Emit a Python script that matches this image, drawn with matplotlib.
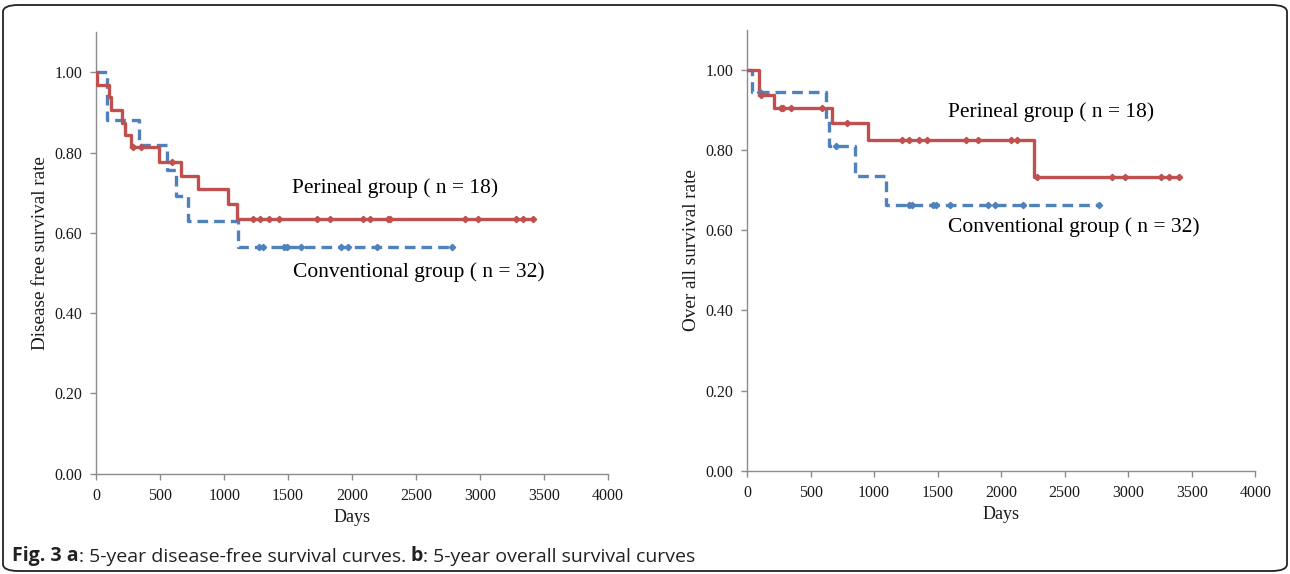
import numpy as np
import matplotlib
matplotlib.use('Agg')
import matplotlib.pyplot as plt
from matplotlib.patches import FancyBboxPatch

# ---- data ----
# panel a: disease-free survival (step change points, survival after each point)
a_per_t = [0, 8, 97, 115, 202, 222, 272, 489, 665, 798, 1031, 1097, 3418]
a_per_s = [1.0, 0.969, 0.938, 0.906, 0.875, 0.844, 0.813, 0.778, 0.743, 0.709, 0.672, 0.636, 0.636]
a_per_cens = [290, 352, 590, 1223, 1283, 1354, 1425, 1729, 1825, 2083, 2140, 2279, 2297,
              2887, 2987, 3279, 3340, 3418]

a_con_t = [0, 84, 333, 555, 621, 713, 1105, 2782]
a_con_s = [1.0, 0.882, 0.819, 0.757, 0.693, 0.629, 0.566, 0.566]
a_con_cens = [1276, 1302, 1466, 1493, 1603, 1917, 1970, 2193, 2782]

# panel b: overall survival
b_per_t = [0, 94, 212, 667, 955, 2261, 3403]
b_per_s = [1.0, 0.939, 0.906, 0.867, 0.825, 0.733, 0.733]
b_per_cens = [108, 265, 286, 346, 588, 789, 1217, 1277, 1354, 1414, 1723, 1815, 2075, 2123,
              2280, 2870, 2975, 3258, 3324, 3403]

b_con_t = [0, 37, 622, 643, 850, 1092, 2772]
b_con_s = [1.0, 0.946, 0.878, 0.810, 0.735, 0.663, 0.663]
b_con_cens = [105, 698, 1278, 1296, 1462, 1488, 1598, 1900, 1952, 2175, 2772]

x_ticks = [0, 500, 1000, 1500, 2000, 2500, 3000, 3500, 4000]
y_ticks = [0.0, 0.2, 0.4, 0.6, 0.8, 1.0]

RED = '#C0504D'
BLUE = '#4F81BD'
GREY = '#8C8C8C'
INK = '#1a1a1a'

plt.rcParams['font.family'] = ['Liberation Serif', 'DejaVu Serif']


def level_at(times, surv, t):
    # survival level of a step curve at time t
    idx = np.searchsorted(times, t, side='right') - 1
    return np.asarray(surv)[idx]


def draw_curve(ax, times, surv, cens, color, dashed):
    ls = (0, (3.2, 1.8)) if dashed else '-'
    ax.step(times, surv, where='post', color=color, lw=2.4, ls=ls, zorder=3)
    ax.plot(cens, level_at(times, surv, cens), ls='none', marker='D',
            ms=3.2, color=color, mec=color, zorder=4)


def style_axes(ax, ylabel):
    ax.set_xlim(0, 4000)
    ax.set_ylim(0, 1.1)
    ax.set_xticks(x_ticks)
    ax.set_yticks(y_ticks)
    ax.set_yticklabels([f'{v:.2f}' for v in y_ticks])
    for s in ['top', 'right']:
        ax.spines[s].set_visible(False)
    for s in ['left', 'bottom']:
        ax.spines[s].set_color(GREY)
        ax.spines[s].set_linewidth(1.0)
    ax.tick_params(direction='out', length=4, width=1.0, color=GREY,
                   labelsize=11.5, labelcolor=INK, pad=6)
    ax.set_xlabel('Days', fontsize=13, color=INK, labelpad=4)
    ax.set_ylabel(ylabel, fontsize=13.8, color=INK, labelpad=4)


fig = plt.figure(figsize=(12.9, 5.74), dpi=100)

ax1 = fig.add_axes([0.0747, 0.1747, 0.3964, 0.7690])
draw_curve(ax1, a_con_t, a_con_s, a_con_cens, BLUE, True)
draw_curve(ax1, a_per_t, a_per_s, a_per_cens, RED, False)
style_axes(ax1, 'Disease free survival rate')
ax1.text(1528, 0.711, 'Perineal group ( n = 18)', fontsize=15.5, va='center', ha='left')
ax1.text(1539, 0.502, 'Conventional group ( n = 32)', fontsize=15.5, va='center', ha='left')

ax2 = fig.add_axes([0.5791, 0.1800, 0.3940, 0.7677])
draw_curve(ax2, b_con_t, b_con_s, b_con_cens, BLUE, True)
draw_curve(ax2, b_per_t, b_per_s, b_per_cens, RED, False)
style_axes(ax2, 'Over all survival rate')
ax2.text(1582, 0.895, 'Perineal group ( n = 18)', fontsize=15.5, va='center', ha='left')
ax2.text(1582, 0.608, 'Conventional group ( n = 32)', fontsize=15.5, va='center', ha='left')

# caption: bold and regular pieces chained one after another
cap_font = ['Open Sans', 'DejaVu Sans']
pieces = [('Fig. 3 a', 'bold'), (': 5-year disease-free survival curves. ', 'normal'),
          ('b', 'bold'), (': 5-year overall survival curves', 'normal')]
anchor = fig.text(0.0093, (574 - 556) / 574, pieces[0][0], fontsize=14,
                  fontweight=pieces[0][1], family=cap_font, va='center', ha='left',
                  color='#222222')
for txt, wt in pieces[1:]:
    anchor = ax1.annotate(txt, xy=(1, 0), xycoords=anchor, xytext=(0, 0),
                          textcoords='offset points', fontsize=14, fontweight=wt,
                          family=cap_font, va='bottom', ha='left', color='#222222',
                          annotation_clip=False)

# rounded frame around the figure
frame = FancyBboxPatch((3 / 1290, 3 / 574), 1284 / 1290, 566 / 574,
                       boxstyle='round,pad=0,rounding_size=0.012',
                       transform=fig.transFigure, fill=False, ec='#222222', lw=1.3)
fig.patches.append(frame)

fig.savefig('out.png', dpi=100)
